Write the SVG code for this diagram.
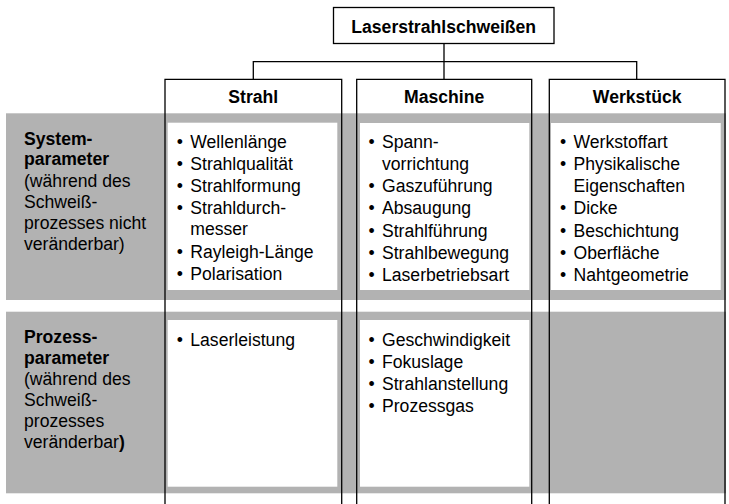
<svg xmlns="http://www.w3.org/2000/svg" width="729" height="504" viewBox="0 0 729 504">
<style>
  text { font-family: "Liberation Sans", Arial, sans-serif; font-size: 17.6px; fill: #000; }
  .b { font-weight: bold; }
  .c { text-anchor: middle; }
  .box { fill: #fff; stroke: #000; stroke-width: 1.3; }
  .col { fill: none; stroke: #000; stroke-width: 1.3; }
  .band { fill: #b2b2b2; }
  .inner { fill: #fff; }
  .con { fill: none; stroke: #000; stroke-width: 1.3; }
</style>

<g id="bands">
  <rect class="band" x="6" y="113.3" width="720" height="186.7"/>
  <rect class="band" x="6" y="311.7" width="720" height="181.6"/>
</g>

<g id="connectors">
  <path class="con" d="M444 43.5 V79.3 M253.3 79.3 V61.7 H636.7 V79.3"/>
</g>

<g id="root">
  <rect class="box" x="333.5" y="7.5" width="220.5" height="36"/>
  <text class="b c" x="443.7" y="32.5">Laserstrahlschweißen</text>
</g>

<g id="strahl">
  <path class="col" d="M165 510 V79.3 H341.7 V510"/>
  <text class="b c" x="253.3" y="103">Strahl</text>
</g>
<g id="maschine">
  <path class="col" d="M356.7 510 V79.3 H531.7 V510"/>
  <text class="b c" x="444.2" y="103">Maschine</text>
</g>
<g id="werkstueck">
  <path class="col" d="M549.3 510 V79.3 H725 V510"/>
  <text class="b c" x="637.2" y="103">Werkstück</text>
</g>

<g id="systemparameter-label">
  <text x="24" y="144.5" class="b">System-</text>
  <text x="24" y="165" class="b">parameter</text>
  <text x="24" y="186.5">(während des</text>
  <text x="24" y="207.5">Schweiß-</text>
  <text x="24" y="228.5">prozesses nicht</text>
  <text x="24" y="249.5">veränderbar)</text>
</g>

<g id="prozessparameter-label">
  <text x="24" y="343" class="b">Prozess-</text>
  <text x="24" y="364" class="b">parameter</text>
  <text x="24" y="385">(während des</text>
  <text x="24" y="406">Schweiß-</text>
  <text x="24" y="427">prozesses</text>
  <text x="24" y="448">veränderbar<tspan class="b">)</tspan></text>
</g>

<g id="strahl-system">
  <rect class="inner" x="167.7" y="122.7" width="169.6" height="167.3"/>
  <text class="c" x="179.8" y="147.5">•</text><text x="190.3" y="147.5">Wellenlänge</text>
  <text class="c" x="179.8" y="169.6">•</text><text x="190.3" y="169.6">Strahlqualität</text>
  <text class="c" x="179.8" y="191.7">•</text><text x="190.3" y="191.7">Strahlformung</text>
  <text class="c" x="179.8" y="213.6">•</text><text x="190.3" y="213.6">Strahldurch-</text>
  <text x="190.3" y="235.3">messer</text>
  <text class="c" x="179.8" y="258.3">•</text><text x="190.3" y="258.3">Rayleigh-Länge</text>
  <text class="c" x="179.8" y="280.2">•</text><text x="190.3" y="280.2">Polarisation</text>
</g>

<g id="maschine-system">
  <rect class="inner" x="360" y="123" width="169.3" height="167"/>
  <text class="c" x="371.5" y="148">•</text><text x="382" y="148">Spann-</text>
  <text x="382" y="169.5">vorrichtung</text>
  <text class="c" x="371.5" y="192">•</text><text x="382" y="192">Gaszuführung</text>
  <text class="c" x="371.5" y="214.3">•</text><text x="382" y="214.3">Absaugung</text>
  <text class="c" x="371.5" y="236.6">•</text><text x="382" y="236.6">Strahlführung</text>
  <text class="c" x="371.5" y="258.7">•</text><text x="382" y="258.7">Strahlbewegung</text>
  <text class="c" x="371.5" y="280.5">•</text><text x="382" y="280.5">Laserbetriebsart</text>
</g>

<g id="werkstueck-system">
  <rect class="inner" x="551" y="123" width="169.7" height="167"/>
  <text class="c" x="563" y="148">•</text><text x="573.5" y="148">Werkstoffart</text>
  <text class="c" x="563" y="169.5">•</text><text x="573.5" y="169.5">Physikalische</text>
  <text x="573.5" y="192">Eigenschaften</text>
  <text class="c" x="563" y="214.3">•</text><text x="573.5" y="214.3">Dicke</text>
  <text class="c" x="563" y="236.6">•</text><text x="573.5" y="236.6">Beschichtung</text>
  <text class="c" x="563" y="258.7">•</text><text x="573.5" y="258.7">Oberfläche</text>
  <text class="c" x="563" y="280.5">•</text><text x="573.5" y="280.5">Nahtgeometrie</text>
</g>

<g id="strahl-prozess">
  <rect class="inner" x="167.7" y="320" width="169.6" height="166.7"/>
  <text class="c" x="179.8" y="346">•</text><text x="190.3" y="346">Laserleistung</text>
</g>

<g id="maschine-prozess">
  <rect class="inner" x="360" y="320" width="169.3" height="166.7"/>
  <text class="c" x="371.5" y="345.5">•</text><text x="382" y="345.5">Geschwindigkeit</text>
  <text class="c" x="371.5" y="367.6">•</text><text x="382" y="367.6">Fokuslage</text>
  <text class="c" x="371.5" y="389.7">•</text><text x="382" y="389.7">Strahlanstellung</text>
  <text class="c" x="371.5" y="411.8">•</text><text x="382" y="411.8">Prozessgas</text>
</g>
</svg>
